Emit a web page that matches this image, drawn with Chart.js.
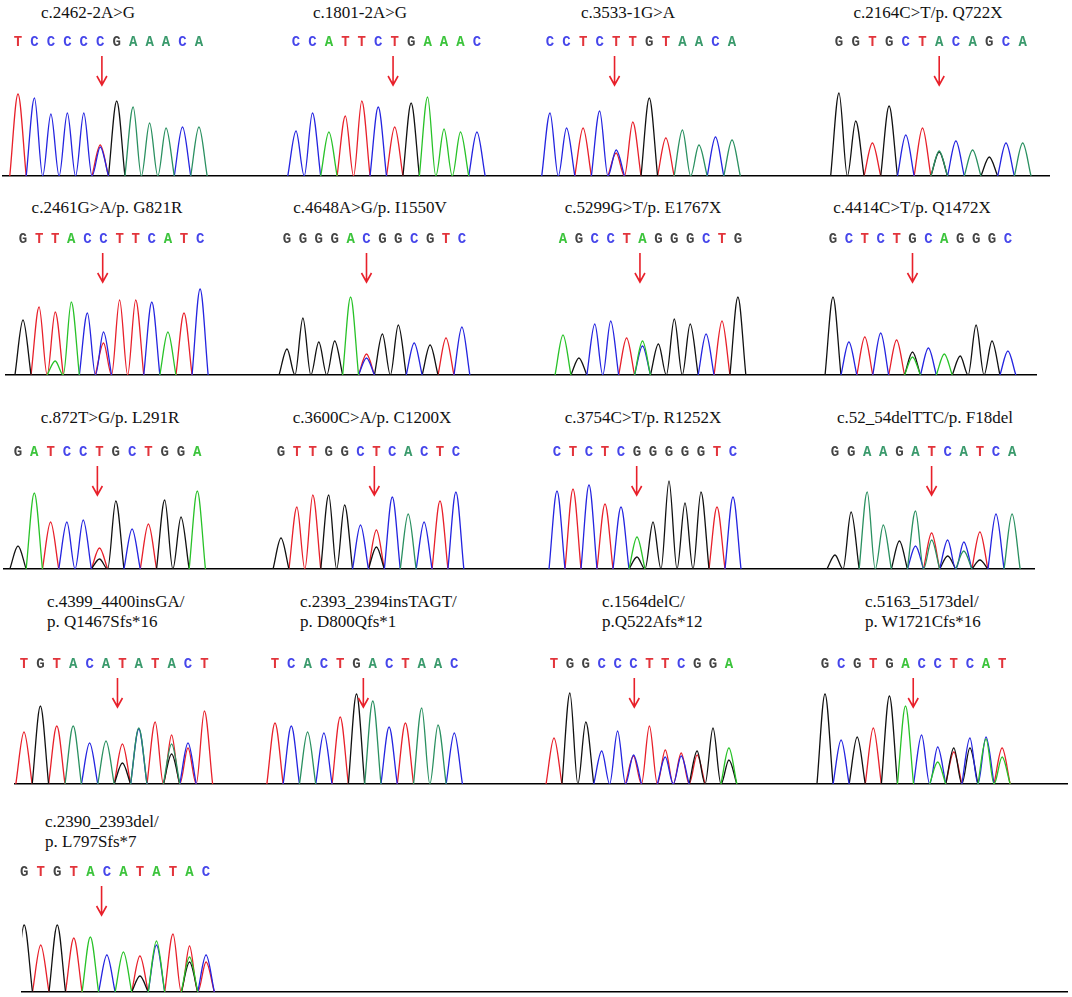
<!DOCTYPE html>
<html>
<head>
<meta charset="utf-8">
<script src="https://cdn.jsdelivr.net/npm/chart.js@4.4.1/dist/chart.umd.min.js"></script>
<style>
html, body { margin: 0; padding: 0; background: #fff; }
#fig { position: relative; width: 1072px; height: 997px; overflow: hidden; }
.ttl { position: absolute; font-family: 'Liberation Serif', 'Times New Roman', serif; font-size: 17px; line-height: 20px; color: #111; white-space: pre; }
canvas { position: absolute; }
</style>
</head>
<body>
<div id="fig"></div>
<script>
// mutation labels, one per trace
var titles = [
    'c.2462-2A>G', 'c.1801-2A>G', 'c.3533-1G>A', 'c.2164C>T/p. Q722X',
    'c.2461G>A/p. G821R', 'c.4648A>G/p. I1550V', 'c.5299G>T/p. E1767X', 'c.4414C>T/p. Q1472X',
    'c.872T>G/p. L291R', 'c.3600C>A/p. C1200X', 'c.3754C>T/p. R1252X', 'c.52_54delTTC/p. F18del',
    'c.4399_4400insGA/\np. Q1467Sfs*16', 'c.2393_2394insTAGT/\np. D800Qfs*1',
    'c.1564delC/\np.Q522Afs*12', 'c.5163_5173del/\np. W1721Cfs*16', 'c.2390_2393del/\np. L797Sfs*7'
];

// base calls shown above each trace
var sequences = [
    'TCCCCCGAAACA', 'CCATTCTGAAAC', 'CCTCTTGTAACA', 'GGTGCTACAGCA',
    'GTTACCTTCATC', 'GGGGACGGCGTC', 'AGCCTAGGGCTG', 'GCTCTGCAGGGC',
    'GATCCTGCTGGA', 'GTTGGCTCACTC', 'CTCTCGGGGGTC', 'GGAAGATCATCA',
    'TGTACATATACT', 'TCACTGACTAAC', 'TGGCCCTTCGGA', 'GCGTGACCTCAT',
    'GTGTACATATAC'
];

// where the red arrow points (in base index units)
var mutationSites = [5.1, 5.9, 3.9, 6.0, 4.95, 5.0, 4.84, 5.0, 4.87, 5.87, 4.98, 6.0, 5.7, 5.42, 5.05, 5.48, 4.68];

// height of the called base's peak at each position
var peakHeights = [
    [82, 78, 62, 63, 63, 29, 75, 69, 53, 48, 49, 49],
    [45, 63, 44, 60, 75, 69, 49, 73, 79, 47, 44, 44],
    [63, 48, 48, 65, 23, 54, 78, 38, 46, 31, 39, 36],
    [83, 55, 33, 70, 41, 48, 25, 35, 26, 19, 33, 33],
    [55, 68, 63, 73, 62, 43, 75, 75, 73, 43, 62, 86],
    [26, 57, 33, 34, 78, 17, 41, 50, 32, 30, 37, 48],
    [40, 17, 51, 54, 37, 34, 31, 56, 51, 41, 54, 78],
    [78, 33, 38, 42, 35, 23, 27, 21, 19, 50, 34, 24],
    [23, 76, 47, 47, 49, 21, 68, 40, 45, 69, 52, 78],
    [31, 62, 74, 74, 64, 44, 39, 72, 55, 47, 68, 77],
    [78, 80, 84, 65, 62, 12, 47, 88, 66, 77, 62, 72],
    [14, 57, 77, 44, 28, 58, 36, 29, 18, 37, 55, 55],
    [52, 78, 58, 58, 41, 43, 40, 56, 62, 40, 41, 73],
    [61, 58, 52, 51, 67, 90, 83, 57, 61, 76, 59, 51],
    [46, 91, 62, 33, 53, 29, 58, 34, 28, 33, 56, 36],
    [90, 44, 47, 56, 88, 78, 49, 37, 32, 46, 45, 36],
    [67, 47, 67, 54, 55, 37, 40, 36, 51, 58, 35, 37]
];

// secondary (overlapping) peaks: [position, base, height]
var extraPeaks = [
    [[5, 'T', 31]],
    [],
    [[4, 'C', 26]],
    [[6, 'G', 24]],
    [[5, 'T', 32], [2, 'A', 14]],
    [[5, 'T', 21]],
    [[5, 'C', 29]],
    [[5, 'A', 18]],
    [[5, 'G', 10]],
    [[6, 'G', 22]],
    [[5, 'A', 32]],
    [[5, 'C', 23], [6, 'A', 29], [7, 'G', 13], [8, 'C', 27], [9, 'G', 9]],
    [[6, 'G', 21], [7, 'C', 55], [9, 'T', 49], [9, 'G', 30], [10, 'T', 36]],
    [],
    [[5, 'T', 28], [7, 'C', 27], [8, 'T', 31], [9, 'T', 29], [11, 'G', 24]],
    [[7, 'A', 22], [8, 'G', 36], [9, 'G', 36], [10, 'C', 47], [11, 'A', 27]],
    [[7, 'G', 16], [8, 'C', 47], [10, 'T', 46], [10, 'G', 30], [11, 'T', 30]]
];

// which traces use the darker teal for A
var tealA = [true, false, true, true, false, false, false, false, false, true, false, true, true, true, false, false, false];

// ---- layout (pixels) ----
var rowLetterY = [43, 240, 453, 665, 873];
var rowBaseY = [176, 375, 569, 784, 992];
var rowTitleY = [13, 208, 418, 602, 822];
var rowSpan = [[2, 1050], [5, 1037], [3, 1035], [14, 1068], [18, 1068]];
var colEdges = [266, 536, 804];
var peakStart = [18, 296, 550, 839, 23, 287, 563, 833, 18, 281, 557, 835, 24, 275, 554, 825, 20];
var peakStep = [16.45, 16.45, 16.55, 16.7, 16.1, 15.9, 15.9, 15.9, 16.3, 15.9, 16.0, 16.1, 16.4, 16.3, 15.9, 16.1, 16.6];
var titleX = [88, 360, 628, 928, 107, 370, 643, 912, 110, 372, 643, 925, 47, 300, 602, 865, 45];

var lineColors = { C: '#2424e0', G: '#111111', T: '#e8202a' };
var letterColors = { C: '#4646ea', G: '#444444', T: '#e2343b' };

function baseColor(b, i, forLetter) {
    if (b === 'A') return tealA[i] ? (forLetter ? '#3a9a6c' : '#2a9060') : (forLetter ? '#3cc43c' : '#28c228');
    return forLetter ? letterColors[b] : lineColors[b];
}

function peakPoints(i, base) {
    var list = [];
    sequences[i].split('').forEach(function(b, p) {
        if (b === base) list.push([p, peakHeights[i][p]]);
    });
    extraPeaks[i].forEach(function(e) {
        if (e[1] === base) list.push([e[0], e[2]]);
    });
    list.sort(function(a, b) { return a[0] - b[0]; });
    var pts = [];
    list.forEach(function(pk) {
        var last = pts.length ? pts[pts.length - 1] : null;
        if (!last || last.x !== pk[0] - 0.5) {
            if (last) pts.push({x: (last.x + pk[0] - 0.5) / 2, y: null});
            pts.push({x: pk[0] - 0.5, y: 0});
        }
        pts.push({x: pk[0], y: pk[1]});
        pts.push({x: pk[0] + 0.5, y: 0});
    });
    return pts;
}

var arrowPlugin = {
    id: 'mutArrow',
    afterDatasetsDraw: function(chart, args, opts) {
        var ctx = chart.ctx, area = chart.chartArea;
        var x = chart.scales.x.getPixelForValue(opts.site);
        var y1 = area.top + 3, y2 = area.top + 32;
        ctx.save();
        ctx.strokeStyle = '#e8202a';
        ctx.lineWidth = 1.6;
        ctx.beginPath();
        ctx.moveTo(x, y1);
        ctx.lineTo(x, y2);
        ctx.moveTo(x - 5, y2 - 9);
        ctx.lineTo(x, y2);
        ctx.lineTo(x + 5, y2 - 9);
        ctx.stroke();
        ctx.restore();
    }
};

var fig = document.getElementById('fig');

titles.forEach(function(t, i) {
    var row = Math.floor(i / 4), col = i % 4;
    var twoLine = t.indexOf('\n') >= 0;
    var d = document.createElement('div');
    d.className = 'ttl';
    d.textContent = t;
    d.style.top = (rowTitleY[row] - 10) + 'px';
    if (twoLine) {
        d.style.left = titleX[i] + 'px';
    } else {
        d.style.left = (titleX[i] - 200) + 'px';
        d.style.width = '400px';
        d.style.textAlign = 'center';
    }
    fig.appendChild(d);

    var left = col === 0 ? rowSpan[row][0] : colEdges[col - 1];
    var right = (col === 3 || i === titles.length - 1) ? rowSpan[row][1] : colEdges[col];
    var top = Math.round(rowLetterY[row] - 10);
    var w = right - left, h = rowBaseY[row] + 2 - top;
    var areaH = rowBaseY[row] - top - 20;

    var cv = document.createElement('canvas');
    cv.width = w; cv.height = h;
    cv.style.left = left + 'px'; cv.style.top = top + 'px';
    cv.style.width = w + 'px'; cv.style.height = h + 'px';
    fig.appendChild(cv);

    var x0 = peakStart[i] - left, step = peakStep[i];
    var xmin = -x0 / step, xmax = (w - x0) / step;
    var seq = sequences[i];

    var datasets = ['A', 'C', 'G', 'T'].map(function(b) {
        return {
            label: b,
            data: peakPoints(i, b),
            borderColor: baseColor(b, i, false),
            borderWidth: 1.3,
            pointRadius: 0,
            fill: false,
            spanGaps: false,
            cubicInterpolationMode: 'monotone'
        };
    });

    new Chart(cv, {
        type: 'line',
        data: { datasets: datasets },
        options: {
            responsive: false,
            animation: false,
            layout: { padding: 0 },
            plugins: {
                legend: { display: false },
                tooltip: { enabled: false },
                mutArrow: { site: mutationSites[i] }
            },
            scales: {
                x: {
                    type: 'linear', position: 'bottom', min: xmin, max: xmax,
                    ticks: { display: false },
                    grid: { display: false, drawTicks: false },
                    border: { display: true, color: '#000', width: 1.6 },
                    afterFit: function(a) { a.height = 2; }
                },
                letters: {
                    type: 'linear', axis: 'x', position: 'top', min: xmin, max: xmax,
                    grid: { display: false, drawTicks: false },
                    border: { display: false },
                    ticks: {
                        padding: 2,
                        maxRotation: 0,
                        autoSkip: false,
                        font: { family: "'Liberation Mono', 'DejaVu Sans Mono', monospace", size: 14, weight: 'bold' },
                        color: function(c) { return baseColor(seq[c.index], i, true); },
                        callback: function(v) { return seq[v]; }
                    },
                    afterBuildTicks: function(a) {
                        a.ticks = seq.split('').map(function(b, p) { return { value: p }; });
                    },
                    afterFit: function(a) { a.height = 20; }
                },
                y: { display: false, min: 0, max: areaH }
            }
        },
        plugins: [arrowPlugin]
    });
});
</script>
</body>
</html>
